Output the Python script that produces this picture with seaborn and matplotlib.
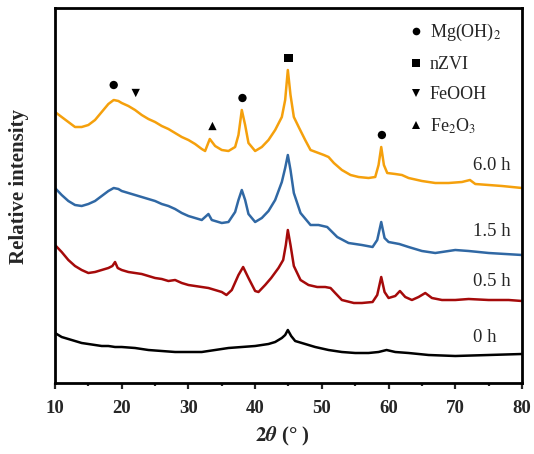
import numpy as np
import pandas as pd
import matplotlib
matplotlib.use("Agg")
import matplotlib.pyplot as plt
from matplotlib.lines import Line2D
from matplotlib.ticker import MultipleLocator
import seaborn as sns

# ---------------- data (arbitrary intensity units) ----------------
theta_6h = [10, 11, 12, 13, 14, 15, 16, 17, 18, 18.8, 19.5, 20, 21, 22, 23, 24, 25, 26, 27, 28, 29, 30,
            31, 32, 32.5, 33.2, 34, 35, 36, 37, 37.5, 38, 38.5, 39, 40, 41, 42, 43, 44, 44.5, 44.9, 45.3,
            45.8, 46.6, 47.5, 48.3, 49.5, 50.3, 51, 51.8, 53, 54.3, 55.5, 57, 58, 58.5, 58.9, 59.3, 59.8,
            61, 62, 63, 65, 67, 69, 71, 72.2, 73, 75, 77, 80]
int_6h = [271, 266, 261, 256, 256, 258, 263, 271, 279, 283, 282, 280, 277, 273, 268, 264, 261, 257, 254,
          250, 246, 243, 239, 234, 232, 244, 237, 233, 232, 236, 248, 273, 258, 240, 232, 236, 243, 253,
          266, 283, 313, 288, 266, 255, 243, 233, 230, 228, 226, 220, 213, 208, 206, 205, 206, 218, 236,
          218, 210, 209, 208, 205, 202, 200, 200, 201, 203, 199, 198, 197, 195]

theta_15h = [10, 11, 12, 13, 14, 15, 16, 17, 18, 18.8, 19.5, 20, 21, 22, 23, 24, 25, 26, 27, 28, 29, 30,
             31, 32, 33, 33.5, 34, 35, 36, 37, 37.5, 38, 38.5, 39, 40, 41, 42, 43, 44, 44.5, 44.9, 45.3,
             45.8, 46.8, 48.3, 49.5, 50.8, 52.3, 54, 56, 57.6, 58.3, 58.9, 59.4, 60, 61.6, 63, 65, 67,
             70, 72, 75, 80]
int_15h = [195, 188, 182, 178, 177, 179, 182, 187, 192, 195, 194, 192, 190, 188, 186, 184, 182, 179, 177,
           174, 170, 167, 165, 163, 169, 163, 162, 160, 161, 171, 183, 193, 183, 169, 161, 165, 172, 183,
           201, 215, 228, 213, 190, 170, 158, 158, 156, 146, 140, 138, 136, 143, 161, 145, 141, 139, 136,
           132, 130, 133, 132, 130, 128]

theta_05h = [10, 11, 12, 13, 14, 15, 16, 17, 18, 18.6, 19, 19.4, 20, 21, 22, 23, 24, 25, 26, 27, 28, 29,
             30, 31, 32, 33, 34, 35, 35.7, 36.5, 37.5, 38.2, 39, 40, 40.5, 41.5, 42.4, 43.5, 44.2, 44.6,
             44.9, 45.3, 45.8, 46.8, 48, 49.3, 50.5, 51.3, 52, 53, 54.8, 56, 57.6, 58.3, 58.9, 59.4, 60,
             61, 61.7, 62.5, 63.5, 64.5, 65.5, 66.5, 68, 70, 72, 75, 78, 80]
int_05h = [138, 131, 123, 117, 113, 110, 111, 113, 115, 117, 121, 115, 113, 111, 110, 109, 107, 105, 104,
           102, 103, 100, 98, 97, 96, 95, 93, 91, 88, 93, 108, 116, 105, 92, 91, 98, 105, 115, 123, 138,
           153, 138, 117, 103, 98, 96, 96, 95, 90, 83, 80, 80, 81, 88, 106, 91, 85, 87, 92, 86, 83, 86,
           90, 85, 83, 83, 84, 83, 83, 82]

theta_0h = [10, 11, 12, 13, 14, 15, 16, 17, 18, 19, 20, 22, 24, 26, 28, 30, 32, 34, 36, 38, 40, 42, 43,
            44, 44.5, 44.9, 45.4, 46, 47, 49, 51, 53, 55, 57, 58.5, 59.7, 61, 63, 66, 70, 75, 80]
int_0h = [50, 46, 44, 42, 40, 39, 38, 37, 37, 36, 36, 35, 33, 32, 31, 31, 31, 33, 35, 36, 37, 39, 41,
          45, 48, 53, 47, 42, 40, 36, 33, 31, 30, 30, 31, 33, 31, 30, 28, 27, 28, 29]

series_labels = ["0 h", "0.5 h", "1.5 h", "6.0 h"]
series_colors = ["#000000", "#A50A0A", "#3068A4", "#F5A00C"]

# phase markers above the peaks
phase_names = ["Mg(OH)$_2$", "nZVI", "FeOOH", "Fe$_2$O$_3$"]
phase_symbols = ["o", "s", "v", "^"]
mark_theta = [18.8, 38.1, 59.0, 45.0, 22.1, 33.6]
mark_level = [298, 285, 248, 325, 290, 257]
mark_phase = ["Mg(OH)$_2$", "Mg(OH)$_2$", "Mg(OH)$_2$", "nZVI", "FeOOH", "Fe$_2$O$_3$"]

# label positions for each time curve
label_theta = [72.7, 72.7, 72.7, 72.7]
label_level = [45, 102, 152, 218]

x_ticks = [10, 20, 30, 40, 50, 60, 70, 80]

# ---------------- build table ----------------
frames = []
for lab, th, iv in zip(series_labels,
                       [theta_0h, theta_05h, theta_15h, theta_6h],
                       [int_0h, int_05h, int_15h, int_6h]):
    frames.append(pd.DataFrame({"theta": th, "intensity": iv, "sample": lab}))
df = pd.concat(frames, ignore_index=True)
marks = pd.DataFrame({"theta": mark_theta, "level": mark_level, "phase": mark_phase})

# ---------------- style ----------------
sns.set_style("ticks")
plt.rcParams["font.family"] = ["Liberation Serif", "DejaVu Serif"]
plt.rcParams["mathtext.fontset"] = "stix"

fig = plt.figure(figsize=(5.34, 4.54), dpi=100)
ax = fig.add_axes([55 / 534, 1 - 383 / 454, 467 / 534, 375 / 454])

sns.lineplot(data=df, x="theta", y="intensity", hue="sample", hue_order=series_labels,
             palette=series_colors, estimator=None, sort=False, linewidth=1.8,
             legend=False, ax=ax)

sns.scatterplot(data=marks, x="theta", y="level", style="phase", style_order=phase_names,
                markers=dict(zip(phase_names, phase_symbols)), color="black", s=36,
                edgecolor="none", legend=False, ax=ax)

for lab, tx, ty in zip(series_labels, label_theta, label_level):
    ax.text(tx, ty, lab, fontsize=13.5, ha="left", va="center")

handles = [Line2D([], [], linestyle="none", marker=m, color="black", markersize=5.5,
                  markeredgewidth=0) for m in phase_symbols]
leg = ax.legend(handles, phase_names, loc="upper left", bbox_to_anchor=(0.758, 0.962),
                frameon=False, fontsize=13, handlelength=0.8, handletextpad=0.35,
                labelspacing=0.72, borderpad=0, borderaxespad=0)

ax.set_xlim(10, 80)
ax.set_ylim(0, 375)
ax.set_xticks(x_ticks)
ax.xaxis.set_minor_locator(MultipleLocator(5))
ax.set_yticks([])
ax.tick_params(axis="x", which="major", direction="out", length=4, width=1.6, pad=8,
               labelsize=13.5)
ax.tick_params(axis="x", which="minor", direction="out", length=2.5, width=1.6)
for lbl in ax.get_xticklabels():
    lbl.set_fontweight("bold")
for sp in ax.spines.values():
    sp.set_visible(True)
    sp.set_linewidth(2.0)
    sp.set_color("black")

ax.set_xlabel(r"$\mathbf{2}\mathbfit{\theta}$ (° )", fontsize=15, fontweight="bold")
ax.xaxis.set_label_coords(0.487, -0.112)
ax.set_ylabel("Relative intensity", fontsize=15, fontweight="bold")
ax.yaxis.set_label_coords(-0.055, 0.525)

fig.savefig("out.png", dpi=100)
